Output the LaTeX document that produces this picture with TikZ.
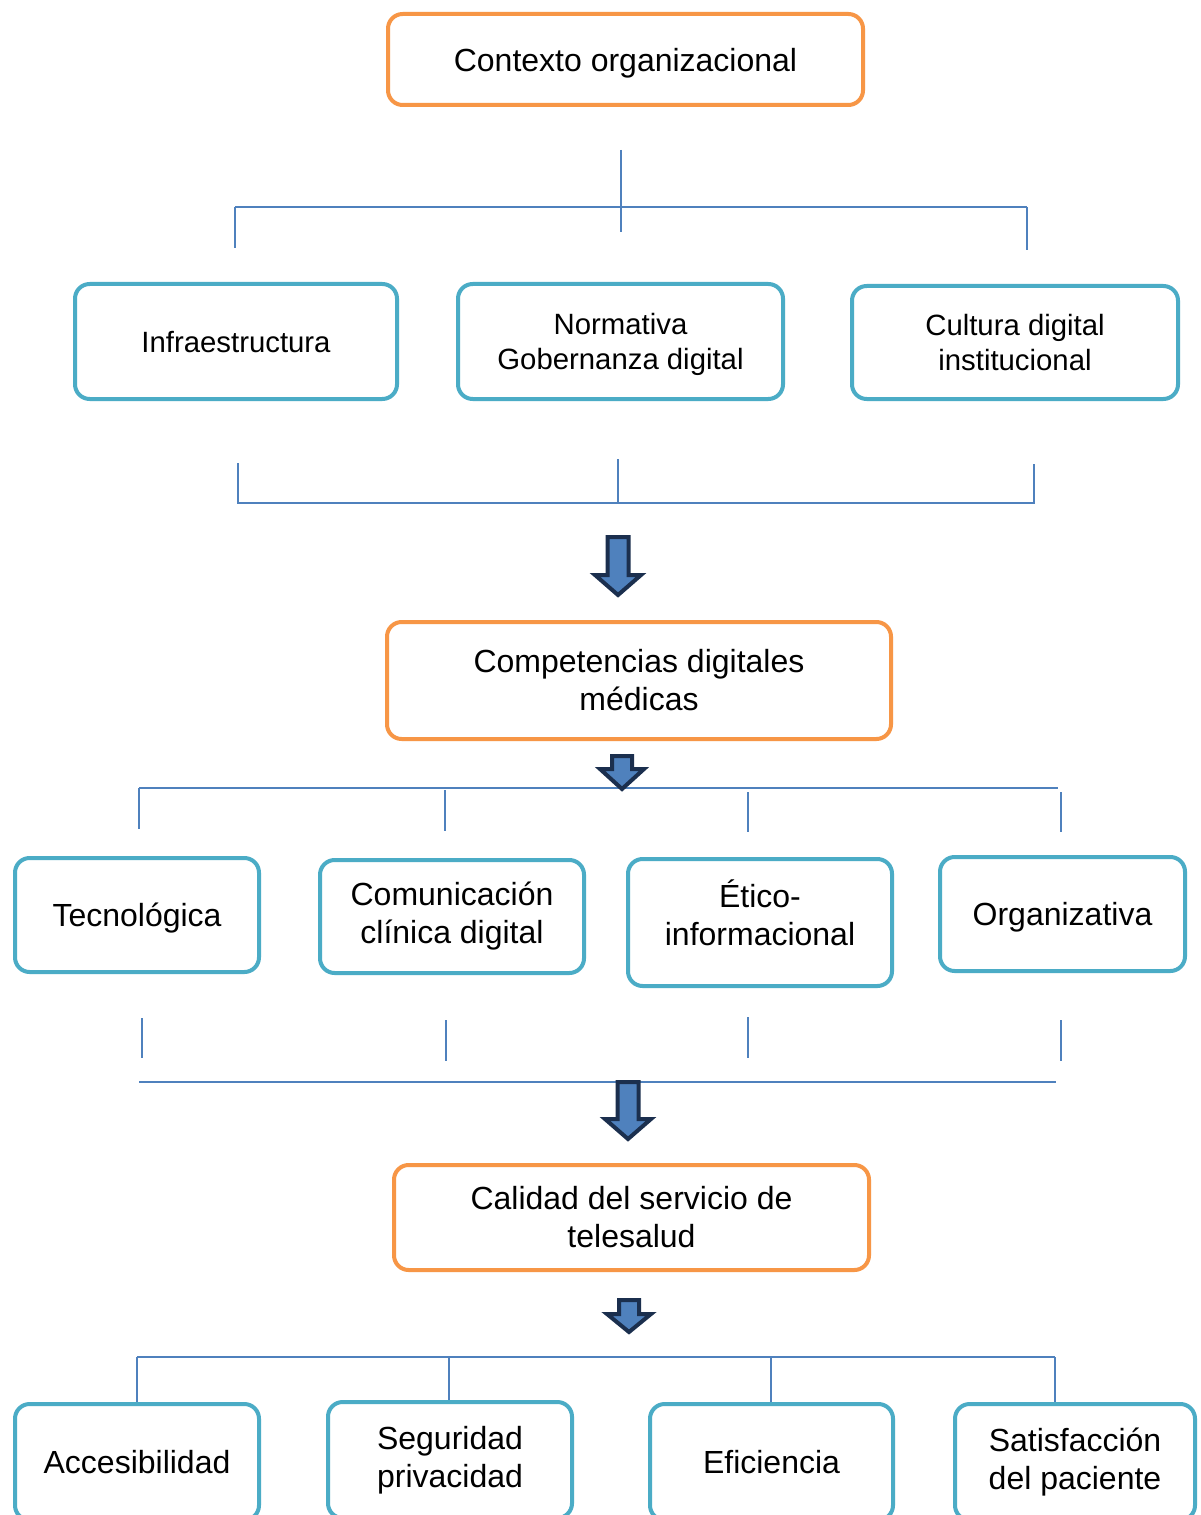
\documentclass[tikz,border=0pt]{standalone}
\usepackage{fontspec}
\setmainfont{Liberation Sans}
\definecolor{orangebox}{HTML}{F79646}
\definecolor{tealbox}{HTML}{4BACC6}
\definecolor{linkblue}{HTML}{4F81BD}
\definecolor{arrowfill}{HTML}{4F81BD}
\definecolor{arrowedge}{HTML}{1B2F4E}
\tikzset{
  basebox/.style={draw, line width=3pt, rounded corners=11pt, align=center, inner sep=0pt, fill=white},
  obox/.style={basebox, draw=orangebox, font=\fontsize{24}{28.5}\selectfont},
  tbox/.style={basebox, draw=tealbox, font=\fontsize{24}{28.5}\selectfont},
  tboxs/.style={basebox, draw=tealbox, font=\fontsize{22}{26.25}\selectfont},
  oneline/.style={text depth=0pt},
  link/.style={draw=linkblue, line width=1.5pt},
  blockarrow/.style={fill=arrowfill, draw=arrowedge, line width=3pt, line join=miter}
}
\newcommand\blockdown[6]{%
  \draw[blockarrow] ({#1-#5},#2) -- ({#1+#5},#2) -- ({#1+#5},#3) -- ({#1+#6},#3) -- (#1,#4) -- ({#1-#6},#3) -- ({#1-#5},#3) -- cycle;}
\begin{document}
\begin{tikzpicture}[x=0.75pt,y=-0.75pt]
\useasboundingbox (0,0) rectangle (1200,1515);
\clip (0,0) rectangle (1200,1515);
\fill[white] (0,0) rectangle (1200,1515);

% top
\node[obox, oneline, minimum width={475*0.75pt}, minimum height={91*0.75pt}] (ctx) at (625.5,59.5) {Contexto organizacional};

% connectors top
\coordinate (c1a) at (621,150); \coordinate (c1b) at (621,232);
\coordinate (h1l) at (235,207); \coordinate (h1r) at (1027,207);
\coordinate (d1l) at (235,248); \coordinate (d1r) at (1027,250);
\draw[link] (c1a) -- (c1b);
\draw[link] (h1l) -- (h1r);
\draw[link] (h1l) -- (d1l);
\draw[link] (h1r) -- (d1r);

% row 1
\node[tboxs, oneline, minimum width={322*0.75pt}, minimum height={115*0.75pt}] (infra) at (236,341.5) {Infraestructura};
\node[tboxs, oneline, minimum width={325*0.75pt}, minimum height={115*0.75pt}] (norma) at (620.5,341.5) {Normativa\\Gobernanza digital};
\node[tboxs, minimum width={326*0.75pt}, minimum height={113*0.75pt}] (cult) at (1015,342.5) {Cultura digital\\institucional};

% bracket below row 1
\coordinate (u1l) at (238,463); \coordinate (u1m) at (618,459); \coordinate (u1r) at (1034,464);
\coordinate (b1l) at (238,503); \coordinate (b1m) at (618,503); \coordinate (b1r) at (1034,503);
\draw[link] (u1l) -- (b1l) -- (b1r) -- (u1r);
\draw[link] (u1m) -- (b1m);

\blockdown{618}{537}{575}{595}{10.5}{23}

% competencias
\node[obox, minimum width={504*0.75pt}, minimum height={117*0.75pt}] (comp) at (639,680.5) {Competencias digitales\\médicas};

% connectors row 2
\coordinate (h2l) at (139,788); \coordinate (h2r) at (1058,788);
\draw[link] (h2l) -- (h2r);
\coordinate (d2a) at (139,829);
\coordinate (t2b) at (445,790); \coordinate (d2b) at (445,831);
\coordinate (t2c) at (748,792); \coordinate (d2c) at (748,832);
\coordinate (t2d) at (1061,792); \coordinate (d2d) at (1061,832);
\draw[link] (h2l) -- (d2a);
\draw[link] (t2b) -- (d2b);
\draw[link] (t2c) -- (d2c);
\draw[link] (t2d) -- (d2d);

\blockdown{622}{756}{769}{789}{10}{22}

% row 2
\node[tbox, oneline, minimum width={244*0.75pt}, minimum height={114*0.75pt}] (tecno) at (137,915) {Tecnológica};
\node[tbox, minimum width={264*0.75pt}, minimum height={113*0.75pt}] (comun) at (452,916.5) {Comunicación\\clínica digital};
\node[tbox, minimum width={264*0.75pt}, minimum height={127*0.75pt}] (etico) at (760,922.5) {};
\node[font=\fontsize{24}{28.5}\selectfont, align=center, inner sep=0pt] (eticot) at (760,913) {Ético-\\informacional};
\node[tbox, oneline, minimum width={245*0.75pt}, minimum height={114*0.75pt}] (organ) at (1062.5,914) {Organizativa};

% below row 2
\coordinate (u2a) at (142,1018); \coordinate (v2a) at (142,1058);
\coordinate (u2b) at (446,1020); \coordinate (v2b) at (446,1061);
\coordinate (u2c) at (748,1017); \coordinate (v2c) at (748,1058);
\coordinate (u2d) at (1061,1020); \coordinate (v2d) at (1061,1061);
\draw[link] (u2a) -- (v2a);
\draw[link] (u2b) -- (v2b);
\draw[link] (u2c) -- (v2c);
\draw[link] (u2d) -- (v2d);
\coordinate (h3l) at (139,1082); \coordinate (h3r) at (1056,1082);
\draw[link] (h3l) -- (h3r);

\blockdown{628}{1082}{1119}{1139}{10.5}{23}

% calidad
\node[obox, minimum width={475*0.75pt}, minimum height={105*0.75pt}] (cal) at (631.5,1217.5) {Calidad del servicio de\\telesalud};

\blockdown{629}{1300}{1314}{1332}{10}{22}

% connectors row 3
\coordinate (h4l) at (137,1357); \coordinate (h4r) at (1055,1357);
\coordinate (h4b) at (449,1357); \coordinate (h4c) at (771,1357);
\draw[link] (h4l) -- (h4r);

% row 3
\node[tbox, oneline, minimum width={244*0.75pt}, minimum height={116*0.75pt}] (acc) at (137,1462) {Accesibilidad};
\node[tbox, minimum width={244*0.75pt}, minimum height={116*0.75pt}] (seg) at (450,1460) {Seguridad\\privacidad};
\node[tbox, oneline, minimum width={243*0.75pt}, minimum height={116*0.75pt}] (efi) at (771.5,1462) {Eficiencia};
\node[tbox, minimum width={240*0.75pt}, minimum height={116*0.75pt}] (sat) at (1075,1462) {Satisfacción\\del paciente};

\draw[link] (h4l) -- (acc.north -| h4l);
\draw[link] (h4b) -- (seg.north -| h4b);
\draw[link] (h4c) -- (efi.north -| h4c);
\draw[link] (h4r) -- (sat.north -| h4r);
\end{tikzpicture}
\end{document}
